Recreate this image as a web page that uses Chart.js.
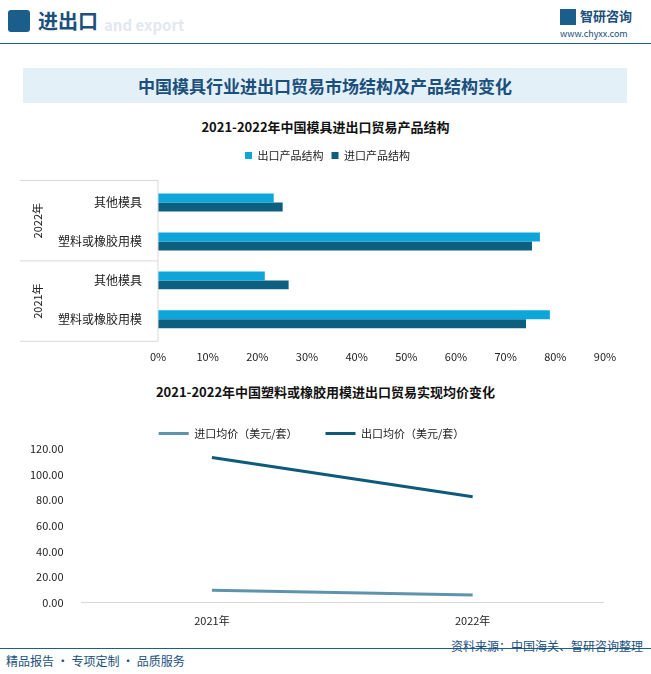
<!DOCTYPE html>
<html><head><meta charset="utf-8">
<script src="https://cdn.jsdelivr.net/npm/chart.js@4"></script>
<style>
body{margin:0;width:651px;height:674px;position:relative;background:#fff;font-family:"Noto Sans CJK SC",sans-serif;overflow:hidden}
.abs{position:absolute}
</style></head><body>
<div class="abs" style="left:8px;top:10px;width:22px;height:22px;background:#1B5E8C;border-radius:3px"></div>
<div class="abs" style="left:38px;top:6px;font-size:20px;font-weight:bold;color:#1B4F7C">进出口</div>
<div class="abs" style="left:104px;top:14px;font-size:15px;font-weight:bold;color:#e3e8ee">and export</div>
<div class="abs" style="left:560px;top:9px;width:16px;height:16px;background:#1B5E8C"></div>
<div class="abs" style="left:580px;top:6px;font-size:13px;font-weight:bold;color:#1B4F7C">智研咨询</div>
<div class="abs" style="left:560px;top:27px;font-size:9px;color:#1B4F7C">www.chyxx.com</div>
<div class="abs" style="left:0;top:43px;width:651px;height:1px;background:#1B5E8C"></div>
<div class="abs" style="left:23px;top:68px;width:604px;height:35px;background:#E4F0F8;text-align:center;line-height:35px;font-size:17px;font-weight:bold;color:#1B4F7C">中国模具行业进出口贸易市场结构及产品结构变化</div>
<div class="abs" style="left:0;top:117px;width:651px;text-align:center;font-size:13px;font-weight:bold;color:#111">2021-2022年中国模具进出口贸易产品结构</div>
<div class="abs" style="left:0;top:382px;width:651px;text-align:center;font-size:13px;font-weight:bold;color:#111">2021-2022年中国塑料或橡胶用模进出口贸易实现均价变化</div>
<div class="abs" style="left:0;top:142px;width:651px;height:228px"><canvas id="c1"></canvas></div>
<div class="abs" style="left:0;top:400px;width:651px;height:230px"><canvas id="c2"></canvas></div>
<div class="abs" style="left:0;top:648px;width:651px;height:1px;background:#1B5E8C"></div>
<div class="abs" style="left:6px;top:652px;font-size:12px;color:#1B4F7C">精品报告 · 专项定制 · 品质服务</div>
<div class="abs" style="right:8px;top:637px;font-size:12px;color:#1B4F7C">资料来源：中国海关、智研咨询整理</div>
<script>
const barCategories=['其他模具','塑料或橡胶用模','其他模具','塑料或橡胶用模'];
const barYears=['2022年','2021年'];
const exportShare=[23.3,76.9,21.5,78.9];
const importShare=[25.1,75.3,26.3,74.1];
const lineYears=['2021年','2022年'];
const importPrice=[9.7,6.0];
const exportPrice=[113.3,82.7];
const F='"Noto Sans CJK SC", sans-serif';
Chart.defaults.font.family=F;Chart.defaults.font.size=11;Chart.defaults.color='#222';

const groups={id:'groups',afterDraw(ch){
 const c=ch.ctx,y=ch.scales.y,ca=ch.chartArea;
 const top=y.getPixelForValue(0)-22, mid=(y.getPixelForValue(1)+y.getPixelForValue(2))/2, bot=y.getPixelForValue(3)+22;
 c.save();c.strokeStyle='#d9d9d9';c.lineWidth=1;
 [top,mid,bot].forEach(v=>{c.beginPath();c.moveTo(20,v);c.lineTo(ca.left,v);c.stroke();});
 c.beginPath();c.moveTo(ca.left,top);c.lineTo(ca.left,bot);c.stroke();
 c.fillStyle='#222';c.font='11px '+F;c.textAlign='center';c.textBaseline='middle';
 [[top,mid],[mid,bot]].forEach((r,i)=>{c.save();c.translate(38,(r[0]+r[1])/2);c.rotate(-Math.PI/2);c.fillText(barYears[i],0,0);c.restore();});
 c.restore();}};
const legendGap={id:'legendGap',beforeInit(ch){const f=ch.legend.fit;ch.legend.fit=function(){f.bind(ch.legend)();this.height+=12;};}};

new Chart(document.getElementById('c1'),{type:'bar',
 data:{labels:barCategories,datasets:[
  {label:'出口产品结构',data:exportShare,backgroundColor:'#0EA5DA'},
  {label:'进口产品结构',data:importShare,backgroundColor:'#0D5F7F'}]},
 options:{indexAxis:'y',responsive:true,maintainAspectRatio:false,animation:false,
  layout:{padding:{left:50,right:46,top:0,bottom:4}},
  datasets:{bar:{barPercentage:1,categoryPercentage:0.46}},
  plugins:{legend:{labels:{boxWidth:7,boxHeight:7,padding:8,font:{size:11}}},tooltip:{enabled:false}},
  scales:{x:{min:0,max:90,ticks:{stepSize:10,callback:v=>v+'%'},grid:{display:false},border:{display:false}},
   y:{grid:{display:false},border:{display:false},ticks:{padding:8,font:{size:12}}}}},
 plugins:[groups,legendGap]});

new Chart(document.getElementById('c2'),{type:'line',
 data:{labels:lineYears,datasets:[
  {label:'进口均价（美元/套）',data:importPrice,borderColor:'#5E93AC',backgroundColor:'#5E93AC',borderWidth:3,pointRadius:0},
  {label:'出口均价（美元/套）',data:exportPrice,borderColor:'#0D5B7A',backgroundColor:'#0D5B7A',borderWidth:3,pointRadius:0}]},
 options:{responsive:true,maintainAspectRatio:false,animation:false,
  layout:{padding:{left:20,right:48,top:0,bottom:0}},
  plugins:{legend:{labels:{boxWidth:30,boxHeight:0,padding:28,font:{size:11}}},tooltip:{enabled:false}},
  scales:{x:{offset:true,grid:{display:false},border:{color:'#d9d9d9'}},
   y:{min:0,max:120,ticks:{stepSize:20,callback:v=>v.toFixed(2),padding:10},grid:{display:false},border:{display:false}}}}});
</script></body></html>
